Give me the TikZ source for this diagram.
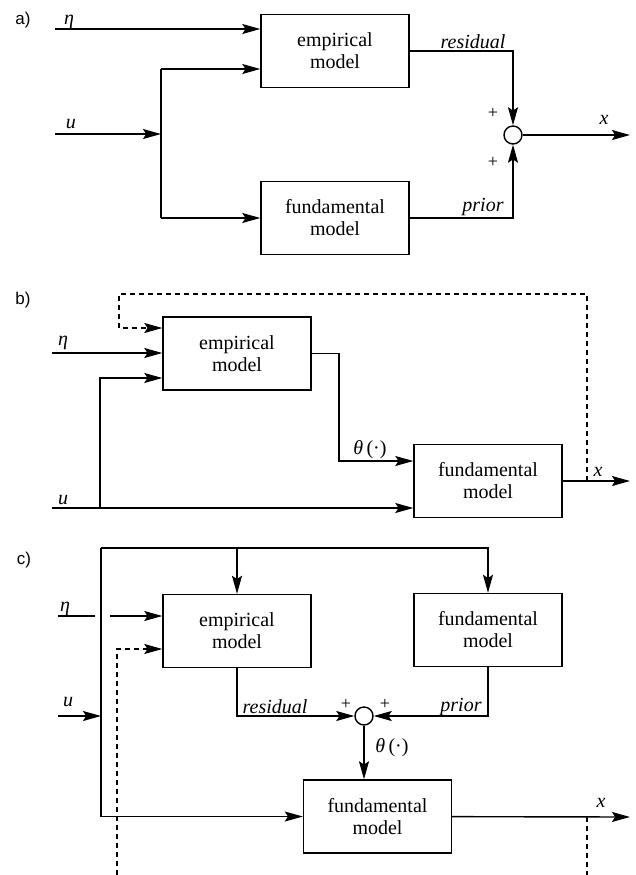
\documentclass[tikz,border=0pt]{standalone}
\usepackage{fontspec}
\setmainfont{Liberation Serif}
\newfontfamily\panelfont{Liberation Sans}
\usetikzlibrary{arrows.meta}
\begin{document}
\begin{tikzpicture}[x=0.5pt,y=-0.5pt,line width=0.7pt,
	box/.style={draw,minimum width=74pt,minimum height=36.5pt,align=center,inner sep=0pt,font=\fontsize{10}{11}\selectfont},
	sum/.style={draw,circle,minimum size=9pt,inner sep=0pt},
	arr/.style={-{Stealth[length=9pt,width=5pt,inset=1.6pt]}},
	dsh/.style={line width=0.6pt,dash pattern=on 2.5pt off 2pt},
	panel/.style={font=\panelfont\fontsize{8.5}{10}\selectfont},
	pm/.style={font=\small}]
	\useasboundingbox(0,0)rectangle(636,875);
	% a)
	\node[panel](la)at(23,20){a)};
	\node[box](ea)at(335,51){empirical\\model};
	\node[box](fa)at(335,218){fundamental\\model};
	\node[sum](sa)at(513,135){};
	\coordinate(etaa)at(55,29);
	\coordinate(ua)at(55,134);
	\coordinate(ja)at(161,134);
	\coordinate(ja1)at(161,69);
	\coordinate(ja2)at(161,218);
	\coordinate(xa)at(630,135);
	\draw[arr](etaa)--(etaa-|ea.west);
	\draw[arr](ua)--(ja);
	\draw(ja1)--(ja2);
	\draw[arr](ja1)--(ja1-|ea.west);
	\draw[arr](ja2)--(fa);
	\draw[arr](ea)-|(sa);
	\draw[arr](fa)-|(sa);
	\draw[arr](sa)--(xa);
	\node(etala)at(69,22){\textit{η}};
	\node(ula)at(71,124){\textit{u}};
	\node(resa)at(473,42){\textit{residual}};
	\node(pria)at(483,207){\textit{prior}};
	\node[pm](pa1)at(493,113){+};
	\node[pm](pa2)at(493,162){+};
	\node(xla)at(604,120){\textit{x}};
	% b)
	\node[panel](lb)at(23,300){b)};
	\node[box](eb)at(237,353.5){empirical\\model};
	\node[box](fb)at(488,481){fundamental\\model};
	\coordinate(etab)at(52,353);
	\coordinate(ub)at(52,508);
	\coordinate(jb)at(100,508);
	\coordinate(jb1)at(100,378);
	\coordinate(tb)at(339,461);
	\coordinate(xb)at(630,481);
	\coordinate(db)at(587,481);
	\coordinate(kb)at(119,294);
	\coordinate(kb1)at(119,328);
	\draw[arr](etab)--(etab-|eb.west);
	\draw[arr](ub)--(ub-|fb.west);
	\draw[arr](jb)--(jb1)--(jb1-|eb.west);
	\draw[arr](eb)-|(tb)--(tb-|fb.west);
	\draw[arr](fb)--(xb);
	\draw[arr,dsh](db)|-(kb)--(kb1)--(kb1-|eb.west);
	\node(etalb)at(63,343){\textit{η}};
	\node(ulb)at(63,500){\textit{u}};
	\node(thb)at(370,450){\textit{θ}\,(·)};
	\node(xlb)at(598,472){\textit{x}};
	% c)
	\node[panel](lc)at(24,560){c)};
	\node[box](ec)at(237,631){empirical\\model};
	\node[box](fct)at(488,630){fundamental\\model};
	\node[box](fcb)at(377.5,816.5){fundamental\\model};
	\node[sum](sc)at(364,716){};
	\coordinate(kc)at(101,548);
	\coordinate(uc)at(58,716);
	\coordinate(etac)at(58,616);
	\coordinate(etac1)at(95,616);
	\coordinate(etac2)at(110,616);
	\coordinate(dc)at(117,875);
	\coordinate(dc1)at(117,649);
	\coordinate(dc2)at(587,817);
	\coordinate(dc3)at(587,875);
	\coordinate(xc)at(630,817);
	\draw[arr](kc)|-(fcb);
	\draw[arr](kc)-|(fct);
	\draw[arr](ec.north|-kc)--(ec);
	\draw[arr](uc)--(uc-|kc);
	\draw(etac)--(etac1);
	\draw[arr](etac2)--(etac2-|ec.west);
	\draw[arr,dsh](dc)--(dc1)--(dc1-|ec.west);
	\draw[arr](ec)|-(sc);
	\draw[arr](fct)|-(sc);
	\draw[arr](sc)--(sc|-fcb.north);
	\draw[arr](fcb)--(xc);
	\draw[dsh](dc2)--(dc3);
	\node(etalc)at(65,609){\textit{η}};
	\node(ulc)at(68,702){\textit{u}};
	\node(resc)at(275,707){\textit{residual}};
	\node(pric)at(461,707){\textit{prior}};
	\node[pm](pc1)at(346,704){+};
	\node[pm](pc2)at(385,704){+};
	\node(thc)at(392,748){\textit{θ}\,(·)};
	\node(xlc)at(601,803){\textit{x}};
\end{tikzpicture}
\end{document}
